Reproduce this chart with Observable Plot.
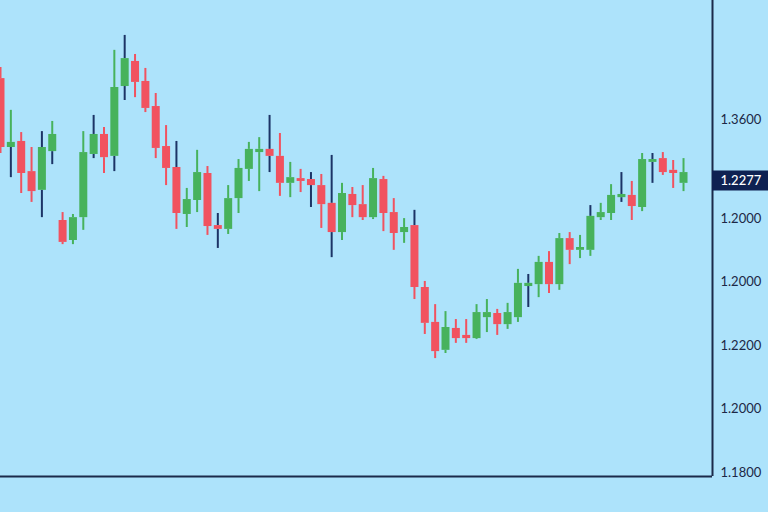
<!DOCTYPE html>
<html><head><meta charset="utf-8">
<script src="https://cdn.jsdelivr.net/npm/d3@7"></script>
<script src="https://cdn.jsdelivr.net/npm/@observablehq/plot@0.6"></script>
<style>
html,body{margin:0;padding:0;background:#ade3fb;}
#chart{width:768px;height:512px;}
</style></head><body><div id="chart"></div>
<script>
// Candle data (index = bar number, left to right)
const open  = [1.3041,1.2824,1.2843,1.2748,1.2689,1.2811,1.2594,1.2531,1.2603,1.2802,1.2865,1.2796,1.3016,1.3095,1.3032,1.2953,1.2827,1.2761,1.2613,1.2657,1.2742,1.2578,1.2566,1.2663,1.2755,1.2808,
               1.2818,1.2796,1.2711,1.2726,1.2723,1.2704,1.2648,1.2556,1.2676,1.2644,1.2603,1.2723,1.2619,1.2556,1.2578,1.2383,1.2273,1.2185,1.2254,1.2232,1.2222,1.2288,1.2301,1.2266,1.2288,1.2386,
               1.2392,1.2462,1.2392,1.2537,1.2500,1.2500,1.2603,1.2616,1.2666,1.2673,1.2635,1.2777,1.2789,1.2752,1.2711];
const high  = [1.3076,1.2941,1.2871,1.2824,1.2874,1.2906,1.2619,1.2613,1.2874,1.2925,1.2887,1.3130,1.3177,1.3117,1.3073,1.2994,1.2893,1.2843,1.2695,1.2815,1.2764,1.2616,1.2704,1.2786,1.2840,1.2855,
               1.2925,1.2868,1.2777,1.2755,1.2745,1.2739,1.2799,1.2711,1.2698,1.2704,1.2758,1.2733,1.2663,1.2600,1.2626,1.2402,1.2329,1.2307,1.2282,1.2282,1.2329,1.2345,1.2314,1.2333,1.2440,1.2424,
               1.2481,1.2496,1.2553,1.2556,1.2547,1.2641,1.2648,1.2707,1.2745,1.2717,1.2805,1.2805,1.2808,1.2783,1.2789];
const low   = [1.2805,1.2729,1.2679,1.2651,1.2603,1.2770,1.2518,1.2518,1.2563,1.2789,1.2742,1.2748,1.2972,1.2981,1.2934,1.2789,1.2704,1.2566,1.2572,1.2619,1.2547,1.2506,1.2550,1.2616,1.2717,1.2685,
               1.2745,1.2670,1.2666,1.2682,1.2635,1.2569,1.2477,1.2531,1.2603,1.2594,1.2597,1.2559,1.2500,1.2522,1.2345,1.2235,1.2159,1.2175,1.2207,1.2207,1.2219,1.2241,1.2232,1.2251,1.2273,1.2320,
               1.2351,1.2364,1.2374,1.2455,1.2474,1.2481,1.2594,1.2594,1.2651,1.2594,1.2622,1.2711,1.2736,1.2695,1.2685];
const close = [1.2824,1.2840,1.2742,1.2685,1.2824,1.2865,1.2525,1.2603,1.2808,1.2865,1.2792,1.3013,1.3104,1.3029,1.2947,1.2821,1.2758,1.2616,1.2660,1.2745,1.2575,1.2566,1.2663,1.2758,1.2818,1.2818,
               1.2796,1.2711,1.2729,1.2717,1.2704,1.2644,1.2556,1.2679,1.2641,1.2603,1.2726,1.2616,1.2553,1.2572,1.2383,1.2270,1.2181,1.2257,1.2222,1.2222,1.2304,1.2304,1.2266,1.2304,1.2396,1.2396,
               1.2462,1.2392,1.2537,1.2500,1.2509,1.2607,1.2619,1.2673,1.2676,1.2638,1.2786,1.2786,1.2745,1.2742,1.2745];
// wick tone: "" = body colour, "n" = dark wick, "u" = dark upper wick, "l" = dark lower wick
const wickTone = ["","l","","","n","l","","","","n","","l","n","","","","","u","","","","n","","","","",
                  "n","","","","n","","n","","","","","","","","u","","","","","","","","","","","n",
                  "","","","","","u","","","n","","","n","","",""];

// Price axis (tick positions and their printed labels)
const tickValues = [1.2912, 1.26, 1.24, 1.22, 1.20, 1.18];
const tickLabels = ["1.3600", "1.2000", "1.2000", "1.2200", "1.2000", "1.1800"];
const lastPriceValue = 1.2720;
const lastPriceLabel = "1.2277";

const GREEN = "#47b25c", RED = "#f1525f", NAVY = "#1c3466", AXIS = "#1b2a4a", BOX = "#0e2152";
const candles = open.map((o, i) => ({i, o, h: high[i], l: low[i], c: close[i], tone: wickTone[i]}));
const xMax = 68.8, yMin = 1.17876, yMax = 1.3287;
const bodyColor = d => d.c >= d.o ? GREEN : RED;

const chart = Plot.plot({
  width: 768, height: 512,
  marginTop: 0, marginBottom: 36, marginLeft: 0, marginRight: 56,
  style: {background: "#ade3fb", fontFamily: "Lato, 'Open Sans', sans-serif", fontSize: "13px", color: "#1c2846", overflow: "visible"},
  x: {domain: [0, xMax], axis: null},
  y: {domain: [yMin, yMax], axis: null},
  color: {type: "identity"},
  marks: [
    Plot.ruleX(candles, {x: "i", y1: "h", y2: d => Math.max(d.o, d.c),
      stroke: d => (d.tone === "n" || d.tone === "u") ? NAVY : bodyColor(d), strokeWidth: 2}),
    Plot.ruleX(candles, {x: "i", y1: d => Math.min(d.o, d.c), y2: "l",
      stroke: d => (d.tone === "n" || d.tone === "l") ? NAVY : bodyColor(d), strokeWidth: 2}),
    Plot.ruleX(candles, {x: "i", y1: "o", y2: "c", stroke: bodyColor, strokeWidth: 8}),
    Plot.ruleX([xMax], {stroke: AXIS, strokeWidth: 2}),
    Plot.ruleY([yMin], {stroke: AXIS, strokeWidth: 2}),
    Plot.axisY(tickValues, {anchor: "right", tickSize: 0, tickPadding: 8,
      tickFormat: d => tickLabels[tickValues.indexOf(d)], fill: "#1c2846", fontSize: 13}),
    Plot.ruleY([lastPriceValue], {x1: xMax, x2: xMax + 5.6, stroke: BOX, strokeWidth: 20}),
    Plot.text([lastPriceLabel], {x: xMax, y: lastPriceValue, text: d => d, textAnchor: "start",
      dx: 8, fill: "white", fontSize: 13, fontWeight: 500})
  ]
});
document.getElementById("chart").appendChild(chart);
</script></body></html>
